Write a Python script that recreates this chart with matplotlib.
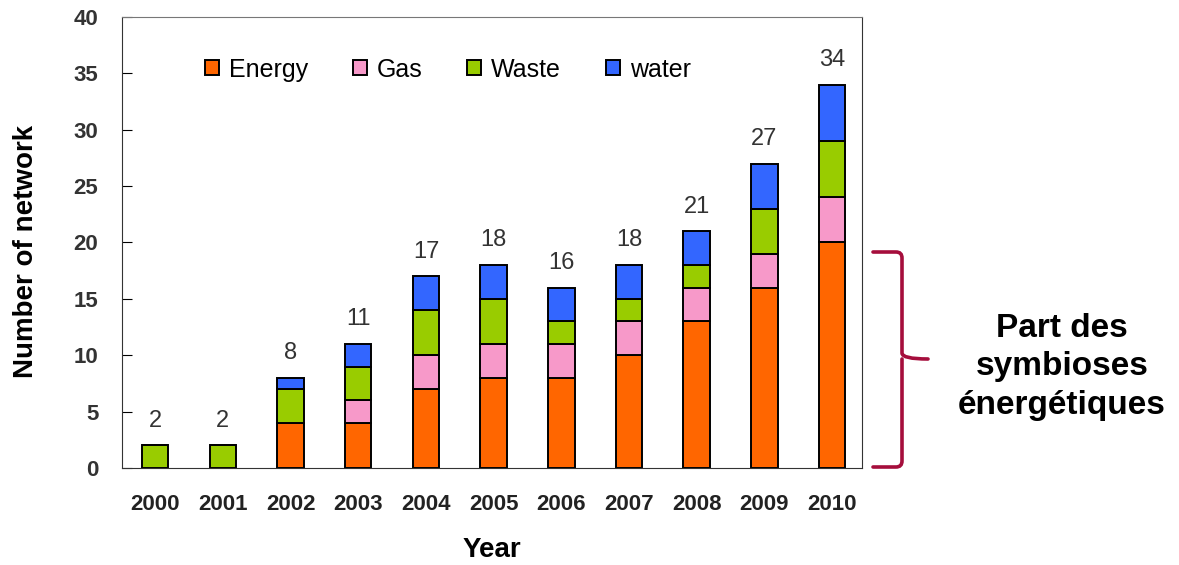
import matplotlib.pyplot as plt
import numpy as np
from matplotlib.path import Path as MPath
from matplotlib.patches import PathPatch

plt.rcParams["font.family"] = ["Liberation Sans", "DejaVu Sans"]

# Données
years = ["2000", "2001", "2002", "2003", "2004", "2005",
         "2006", "2007", "2008", "2009", "2010"]
energy = [0, 0, 4, 4, 7, 8, 8, 10, 13, 16, 20]
gas = [0, 0, 0, 2, 3, 3, 3, 3, 3, 3, 4]
waste = [2, 2, 3, 3, 4, 4, 2, 2, 2, 4, 5]
water = [0, 0, 1, 2, 3, 3, 3, 3, 3, 4, 5]

series = [("Energy", energy, "#FF6600"),
          ("Gas", gas, "#F799C9"),
          ("Waste", waste, "#99CC00"),
          ("water", water, "#3366FF")]

fig = plt.figure(figsize=(11.79, 5.65), dpi=100)
ax = fig.add_axes([0.1035, 0.1717, 0.6275, 0.7983])

x = np.arange(len(years))
bottom = np.zeros(len(years))
for name, vals, color in series:
    vals = np.array(vals)
    ax.bar(x, vals, bottom=bottom, width=0.39, color=color,
           edgecolor="black", linewidth=1.4, label=name)
    bottom += vals

# Totaux au-dessus des barres
for xi, tot in zip(x, bottom):
    ax.text(xi, tot + 1.2, f"{int(tot)}", ha="center", va="bottom",
            fontsize=17, color="#333333")

ax.set_xlim(-0.49, 10.44)
ax.set_ylim(0, 40)
ax.set_yticks(range(0, 41, 5))
ax.set_xticks(x)
ax.set_xticklabels(years, fontsize=16, fontweight="bold", color="#222222")
ax.tick_params(axis="y", direction="in", length=7, labelsize=16,
               labelcolor="#333333", pad=17)
for lbl in ax.get_yticklabels():
    lbl.set_fontweight("bold")
ax.tick_params(axis="x", length=0, pad=19)
ax.set_xlabel("Year", fontsize=20, fontweight="bold")
ax.set_ylabel("Number of network", fontsize=20, fontweight="bold")
ax.xaxis.set_label_coords(0.5, -0.152)
ax.yaxis.set_label_coords(-0.112, 0.48)
ax.spines["top"].set_color("#777777")
for s in ["left", "right", "bottom"]:
    ax.spines[s].set_color("#333333")

ax.legend(loc="center left", bbox_to_anchor=(0.112, 0.883), ncol=4,
          frameon=False, fontsize=18, handlelength=0.55, handleheight=0.55,
          handletextpad=0.4, columnspacing=1.8, borderpad=0,
          borderaxespad=0)

# Accolade
W, H = 1179, 565
def fx(px):
    return px / W
def fy(py):
    return 1 - py / H

x0, x1, xt = 873, 902, 928
yt, ym, yb = 252, 359, 467
r = 6
verts = [(x0, yt), (x1 - r, yt), (x1, yt), (x1, yt + r),
         (x1, ym - r), (x1, ym), (xt, ym),
         (x1, ym), (x1, ym + r),
         (x1, yb - r), (x1, yb), (x1 - r, yb), (x0, yb)]
codes = [MPath.MOVETO, MPath.LINETO, MPath.CURVE3, MPath.CURVE3,
         MPath.LINETO, MPath.CURVE3, MPath.CURVE3,
         MPath.MOVETO, MPath.CURVE3,
         MPath.LINETO, MPath.CURVE3, MPath.CURVE3, MPath.LINETO]
verts = [(fx(a), fy(b)) for a, b in verts]
brace = PathPatch(MPath(verts, codes), facecolor="none", edgecolor="#A50E3C",
                  linewidth=2.6, transform=fig.transFigure, capstyle="round")
fig.patches.append(brace)

fig.text(fx(1062), fy(367), "Part des\nsymbioses\nénergétiques",
         ha="center", va="center", fontsize=24, fontweight="bold",
         linespacing=1.32)

fig.savefig("out.png", dpi=100)
